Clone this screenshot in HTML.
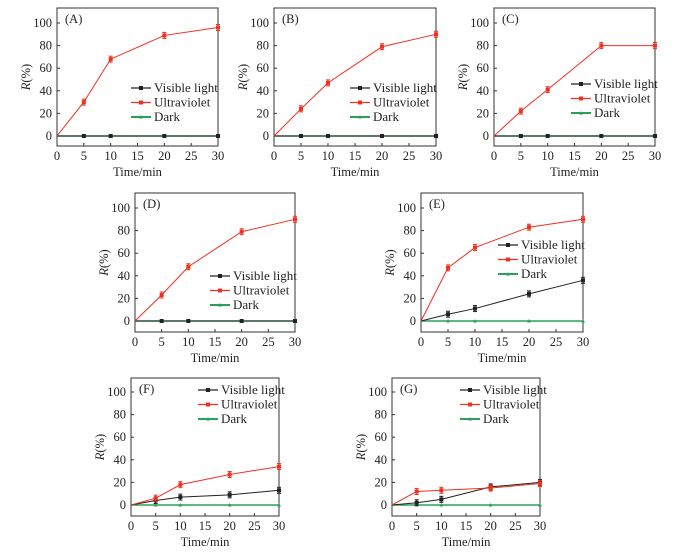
<!DOCTYPE html>
<html><head><meta charset="utf-8"><style>
body{margin:0;background:#fff;width:674px;height:554px;overflow:hidden}
svg, svg text{font-family:"Liberation Serif","DejaVu Serif","Times New Roman",serif;}
</style></head><body>
<svg id="fig" width="674" height="554" xmlns="http://www.w3.org/2000/svg" font-family="Liberation Serif, DejaVu Serif, serif"></svg>
<script>
const times=[0,5,10,20,30];
const xTicks=[0,5,10,15,20,25,30];
const yTicks=[0,20,40,60,80,100];
const uvA=[0,30,68,89,96];
const uvB=[0,24,47,79,90];
const uvC=[0,22,41,80,80];
const uvD=[0,23,48,79,90];
const uvE=[0,47,65,83,90];
const uvF=[0,6,18,27,34];
const uvG=[0,12,13,15,19];
const visA=[0,0,0,0,0];
const visB=[0,0,0,0,0];
const visC=[0,0,0,0,0];
const visD=[0,0,0,0,0];
const visE=[0,6,11,24,36];
const visF=[0,4,7,9,13];
const visG=[0,2,5,16,20];
const dark=[0,0,0,0,0];
const panels=[
 {id:'A',x0:57,x1:218,top:8,bot:146,y0:136,y100:23,lx:131,ly:88,uv:uvA,vis:visA},
 {id:'B',x0:274,x1:436,top:8,bot:146,y0:136,y100:23,lx:350,ly:88,uv:uvB,vis:visB},
 {id:'C',x0:494,x1:655,top:8,bot:146,y0:136,y100:23,lx:571,ly:84,uv:uvC,vis:visC},
 {id:'D',x0:135,x1:295,top:193,bot:332,y0:321,y100:208,lx:210,ly:276,uv:uvD,vis:visD},
 {id:'E',x0:421,x1:583,top:193,bot:332,y0:321,y100:208,lx:498,ly:245,uv:uvE,vis:visE},
 {id:'F',x0:131,x1:279,top:378,bot:516,y0:505,y100:392,lx:198,ly:390,uv:uvF,vis:visF},
 {id:'G',x0:392,x1:540,top:378,bot:516,y0:505,y100:392,lx:460,ly:390,uv:uvG,vis:visG}
];
const svg=document.getElementById('fig');
const NS='http://www.w3.org/2000/svg';
const FF='Liberation Serif, DejaVu Serif, serif';
function mk(tag,attrs,parent,text){const e=document.createElementNS(NS,tag);for(const k in attrs)e.setAttribute(k,attrs[k]);if(tag==='text')e.setAttribute('font-family',FF);if(text!==undefined)e.textContent=text;parent.appendChild(e);return e;}
panels.forEach(p=>{
 const g=mk('g',{},svg);
 
 
 const X=v=>p.x0+(p.x1-p.x0)*v/30;
 const Y=v=>p.y0+(p.y100-p.y0)*v/100;
 const box=mk('rect',{x:p.x0,y:p.top,width:p.x1-p.x0,height:p.bot-p.top,fill:'none',stroke:'#333','stroke-width':1},g);
 
 
 xTicks.forEach(t=>{
  mk('line',{x1:X(t),x2:X(t),y1:p.bot,y2:p.bot-3,stroke:'#333'},g);
  const tl=mk('text',{x:X(t),y:p.bot+14,'font-size':12.5,'text-anchor':'middle',fill:'#222'},g,String(t));
  
  
 });
 yTicks.forEach(t=>{
  mk('line',{x1:p.x0,x2:p.x0+3,y1:Y(t),y2:Y(t),stroke:'#333'},g);
  const tl=mk('text',{x:p.x0-5,y:Y(t)+4,'font-size':12.5,'text-anchor':'end',fill:'#222'},g,String(t));
  
  
 });
 const xt=mk('text',{x:(p.x0+p.x1)/2,y:p.bot+30,'font-size':12.5,'text-anchor':'middle',fill:'#222'},g,'Time/min');
 
 
 const cy=(p.top+p.bot)/2;
 const yt=mk('text',{x:p.x0-27,y:cy,'font-size':12.5,'text-anchor':'middle',fill:'#222',transform:`rotate(-90 ${p.x0-27} ${cy})`},g);
 
 
 mk('tspan',{'font-style':'italic'},yt,'R');
 mk('tspan',{},yt,'(%)');
 const lab=mk('text',{x:p.x0+8,y:p.top+15,'font-size':12.5,fill:'#222'},g,'('+p.id+')');
 
 
 const series=[
  {vals:dark,color:'#2ca05a',w:1.6,name:'dark',tri:true},
  {vals:p.vis,color:'#222',w:1,name:'visible-light'},
  {vals:p.uv,color:'#f03020',w:1,name:'ultraviolet'}
 ];
 series.forEach(s=>{
  const pl=mk('polyline',{points:times.map((t,i)=>X(t)+','+Y(s.vals[i])).join(' '),fill:'none',stroke:s.color,'stroke-width':s.w},g);
  
  
  times.forEach((t,i)=>{
   if(i===0)return;
   const cx=X(t),cy2=Y(s.vals[i]);
   if(s.name==='ultraviolet'||(s.name==='visible-light'&&s.vals[i]>0)){
    mk('line',{x1:cx,x2:cx,y1:cy2-3,y2:cy2+3,stroke:s.color},g);
    mk('line',{x1:cx-2,x2:cx+2,y1:cy2-3,y2:cy2-3,stroke:s.color},g);
    mk('line',{x1:cx-2,x2:cx+2,y1:cy2+3,y2:cy2+3,stroke:s.color},g);
   }
   let m;
   if(s.tri)m=mk('path',{d:`M${cx-2},${cy2+1.5}L${cx+2},${cy2+1.5}L${cx},${cy2-2}Z`,fill:s.color},g);
   else m=mk('rect',{x:cx-2,y:cy2-2,width:4,height:4,fill:s.color},g);
   
   
  });
 });
 const leg=[['Visible light','#222',false],['Ultraviolet','#f03020',false],['Dark','#2ca05a',true]];
 leg.forEach((l,i)=>{
  const y=p.ly+i*14.5;
  const le=mk('g',{},g);
  
  
  mk('line',{x1:p.lx,x2:p.lx+20,y1:y,y2:y,stroke:l[1],'stroke-width':l[2]?2:1.2},le);
  if(l[2])mk('path',{d:`M${p.lx+8},${y+1.5}L${p.lx+12},${y+1.5}L${p.lx+10},${y-2}Z`,fill:l[1]},le);
  else mk('rect',{x:p.lx+8,y:y-2,width:4,height:4,fill:l[1]},le);
  mk('text',{x:p.lx+23,y:y+4,'font-size':13,fill:'#222'},le,l[0]);
 });
});
</script>
</body></html>
